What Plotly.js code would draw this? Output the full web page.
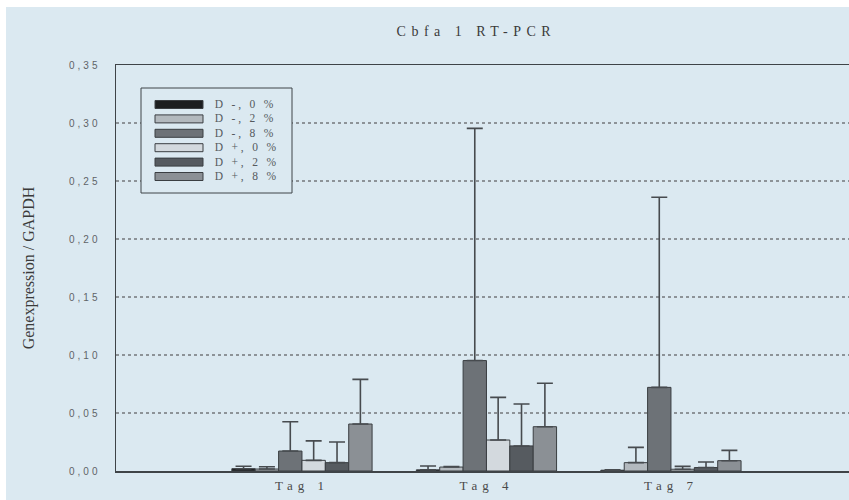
<!DOCTYPE html>
<html>
<head>
<meta charset="utf-8">
<script src="https://cdn.plot.ly/plotly-3.0.1.min.js"></script>
<style>
  html, body { margin: 0; padding: 0; background: #ffffff; }
  #chart { position: absolute; left: 6px; top: 7px; width: 843px; height: 493px; }
  #chart .gtitle { letter-spacing: 5.5px; }
  #chart .ytick text { letter-spacing: 3px; }
  #chart .xtick text { letter-spacing: 5px; }
  #chart .annotation-text { letter-spacing: 2.8px; }
</style>
</head>
<body>
<div id="chart"></div>
<script>
// Sampling days
const days = ['Tag 1', 'Tag 4', 'Tag 7'];

// Groups (D-/D+ with 0 %, 2 %, 8 %)
const seriesNames = ['D -, 0 %', 'D -, 2 %', 'D -, 8 %', 'D +, 0 %', 'D +, 2 %', 'D +, 8 %'];

// Mean Cbfa1 / GAPDH ratio per group and day
const dMinus0 = [0.002, 0.001, 0.0007];
const dMinus2 = [0.0017, 0.0034, 0.0072];
const dMinus8 = [0.0172, 0.0952, 0.0721];
const dPlus0  = [0.0092, 0.0267, 0.0015];
const dPlus2  = [0.0072, 0.0216, 0.003];
const dPlus8  = [0.0405, 0.0382, 0.0089];

// Upper error (standard deviation)
const sdMinus0 = [0.0021, 0.0033, 0.0003];
const sdMinus2 = [0.002, 0.0004, 0.0132];
const sdMinus8 = [0.0253, 0.2002, 0.1639];
const sdPlus0  = [0.0168, 0.0368, 0.0025];
const sdPlus2  = [0.0178, 0.0362, 0.0048];
const sdPlus8  = [0.0385, 0.0374, 0.0089];

const means = [dMinus0, dMinus2, dMinus8, dPlus0, dPlus2, dPlus8];
const sds = [sdMinus0, sdMinus2, sdMinus8, sdPlus0, sdPlus2, sdPlus8];
const fills = ['#1c1e20', '#b3b9be', '#6d7277', '#d3d9de', '#565b60', '#8b9095'];

const bg = '#dbe9f1';
const ink = '#3f4448';
const serif = '"Liberation Serif", "Times New Roman", serif';
const sans = '"Liberation Sans", Arial, sans-serif';

const W = 843, H = 493;
const margin = { l: 110, r: 0, t: 58, b: 29 };
const plotW = W - margin.l - margin.r;
const plotH = H - margin.t - margin.b;
// pixel offsets inside the plot area -> paper fractions
const px = v => v / plotW;
const py = v => 1 - v / plotH;

const traces = seriesNames.map((name, i) => ({
  type: 'bar',
  name: name,
  x: days,
  y: means[i],
  marker: { color: fills[i], line: { color: '#3a3e42', width: 1 } },
  error_y: {
    type: 'data', array: sds[i], symmetric: false, arrayminus: [0, 0, 0],
    color: '#474b4f', thickness: 1.6, width: 8
  },
  hoverinfo: 'skip',
  showlegend: false
}));

// Boxed key in the upper left corner
const key = { left: 25, top: 23, width: 151, height: 105, swatchX: 14, swatchW: 48, swatchH: 8,
              textX: 72, firstRow: 16.5, rowStep: 14.4, spacing: 2.8 };
const shapes = [{
  type: 'rect', xref: 'paper', yref: 'paper', layer: 'above',
  x0: px(key.left), x1: px(key.left + key.width),
  y0: py(key.top + key.height), y1: py(key.top),
  line: { color: ink, width: 1 }, fillcolor: bg
}];
const annotations = [];
seriesNames.forEach((name, i) => {
  const cy = key.top + key.firstRow + i * key.rowStep;
  shapes.push({
    type: 'rect', xref: 'paper', yref: 'paper', layer: 'above',
    x0: px(key.left + key.swatchX), x1: px(key.left + key.swatchX + key.swatchW),
    y0: py(cy + key.swatchH / 2), y1: py(cy - key.swatchH / 2),
    line: { color: '#3a3e42', width: 1 }, fillcolor: fills[i]
  });
  annotations.push({
    xref: 'paper', yref: 'paper', x: px(key.left + key.textX), y: py(cy),
    xanchor: 'left', yanchor: 'middle', showarrow: false, text: name,
    // letter-spacing widens the centred label on both sides
    xshift: key.spacing * name.length / 2,
    font: { family: serif, size: 11.5, color: '#555a5e' }
  });
});

const layout = {
  width: W,
  height: H,
  paper_bgcolor: bg,
  plot_bgcolor: bg,
  margin: margin,
  separators: ', ',
  barmode: 'group',
  bargap: 0.24,
  bargroupgap: 0,
  showlegend: false,
  title: {
    text: 'Cbfa 1 RT-PCR',
    font: { family: serif, size: 14, color: '#3a3a3a' },
    xref: 'container', x: 0.558, xanchor: 'center',
    yref: 'container', y: 0.951, yanchor: 'middle'
  },
  xaxis: {
    type: 'category',
    range: [-1.008, 2.965],
    showline: true, linecolor: ink, linewidth: 1.5,
    mirror: true,
    showgrid: false, zeroline: false,
    ticks: '', ticklabelstandoff: 2,
    tickfont: { family: serif, size: 13, color: '#4a4a4a' }
  },
  yaxis: {
    range: [0, 0.35],
    dtick: 0.05,
    tickformat: '.2f',
    showline: true, linecolor: ink, linewidth: 1.5,
    showgrid: true, gridcolor: '#8d9398', griddash: 'dot', gridwidth: 1.5,
    zeroline: false,
    ticks: '', ticklabelstandoff: 12,
    tickfont: { family: sans, size: 10, color: '#5f6468' },
    title: {
      text: 'Genexpression / GAPDH',
      font: { family: serif, size: 16, color: '#3a3a3a' },
      standoff: 42
    }
  },
  shapes: shapes,
  annotations: annotations
};

Plotly.newPlot('chart', traces, layout, { displayModeBar: false, staticPlot: true });
</script>
</body>
</html>
